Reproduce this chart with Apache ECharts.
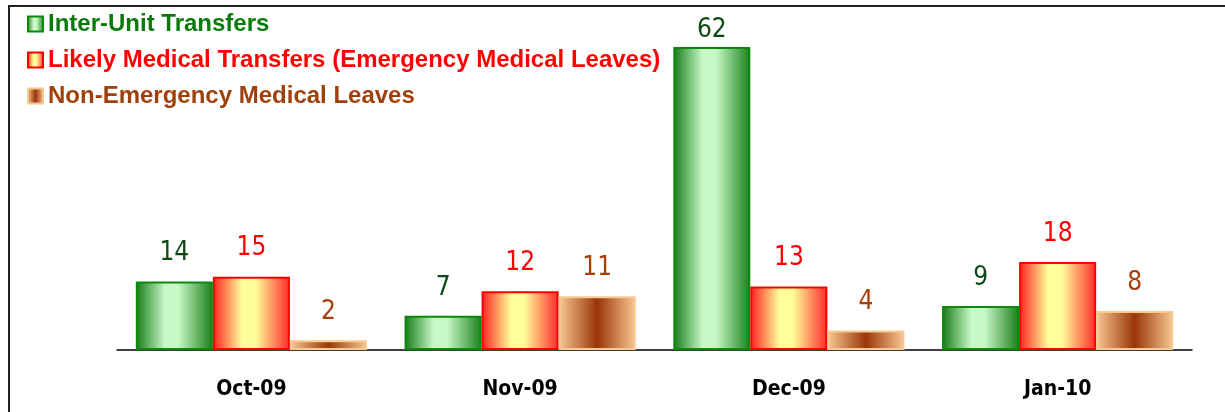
<!DOCTYPE html>
<html>
<head>
<meta charset="utf-8">
<script src="https://cdn.jsdelivr.net/npm/echarts@6/dist/echarts.min.js"></script>
<style>
  html, body { margin: 0; padding: 0; background: #fff; }
  #frame { position: absolute; left: 8px; top: 5px; width: 1230px; height: 420px; border: 2px solid #222; box-sizing: border-box; }
  #chart { width: 1225px; height: 412px; position: absolute; left: 0; top: 0; }
</style>
</head>
<body>
<div id="frame"></div>
<div id="chart"></div>
<script>
// months on the x axis
var months = ["Oct-09", "Nov-09", "Dec-09", "Jan-10"];
var interUnit = [14, 7, 62, 9];
var likelyMedical = [15, 12, 13, 18];
var nonEmergency = [2, 11, 4, 8];

var seriesNames = [
  "Inter-Unit Transfers",
  "Likely Medical Transfers (Emergency Medical Leaves)",
  "Non-Emergency Medical Leaves"
];

var narrow = "'DejaVu Sans Condensed', 'Liberation Sans', sans-serif";
var yMax = 62;

// horizontal gradient, edges -> centre -> edges
function barGrad(edge, mid, edge2) {
  return new echarts.graphic.LinearGradient(0, 0, 1, 0, [
    { offset: 0, color: edge },
    { offset: 0.38, color: mid },
    { offset: 0.55, color: mid },
    { offset: 1, color: edge2 }
  ]);
}

var chart = echarts.init(document.getElementById("chart"));

function makeSeries(name, data, fill, border, labelColor) {
  return {
    name: name,
    type: "bar",
    // the tallest bar's label sits closer to the bar (it is squeezed at the top)
    data: data.map(function (v) {
      return v === yMax ? { value: v, label: { distance: 4 } } : v;
    }),
    barGap: "0%",
    barCategoryGap: "14%",
    itemStyle: { color: fill, borderColor: border, borderWidth: 2 },
    label: {
      show: true,
      position: "top",
      distance: 15,
      color: labelColor,
      fontFamily: narrow,
      fontSize: 26
    }
  };
}

chart.setOption({
  animation: false,
  legend: {
    orient: "vertical",
    left: 22,
    top: 7,
    itemGap: 12,
    itemWidth: 15,
    itemHeight: 15,
    icon: "rect",
    data: [
      { name: seriesNames[0], textStyle: { color: "#0a7a0a" } },
      { name: seriesNames[1], textStyle: { color: "#ff0000" } },
      { name: seriesNames[2], textStyle: { color: "#a0400a" } }
    ],
    textStyle: { fontFamily: "Liberation Sans", fontWeight: "bold", fontSize: 24 },
    selectedMode: false
  },
  grid: { left: 117, right: 33, top: 47, bottom: 62 },
  xAxis: {
    type: "category",
    data: months,
    axisLine: { show: true, lineStyle: { color: "#000", width: 1.5 } },
    axisTick: { show: false },
    axisLabel: {
      color: "#000",
      fontFamily: narrow,
      fontWeight: "bold",
      fontSize: 21,
      margin: 29
    }
  },
  yAxis: {
    type: "value",
    min: 0,
    max: yMax,
    show: false
  },
  series: [
    makeSeries(seriesNames[0], interUnit,
      barGrad("#157a15", "#c8f8c8", "#1a7f1a"), "#0a8a0a", "#0e4a14"),
    makeSeries(seriesNames[1], likelyMedical,
      barGrad("#ff2020", "#ffff99", "#ff2a2a"), "#ff0000", "#ff0000"),
    makeSeries(seriesNames[2], nonEmergency,
      new echarts.graphic.LinearGradient(0, 0, 1, 0, [
        { offset: 0, color: "#f9c994" },
        { offset: 0.5, color: "#9a3608" },
        { offset: 1, color: "#f9c994" }
      ]), "#f9c994", "#a5400c")
  ]
});
</script>
</body>
</html>
